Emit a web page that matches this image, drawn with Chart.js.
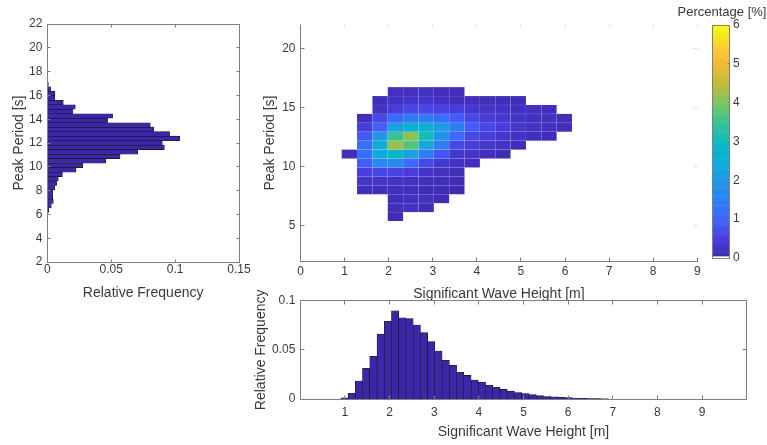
<!DOCTYPE html>
<html><head><meta charset="utf-8">
<script src="https://cdn.jsdelivr.net/npm/chart.js@4.4.1/dist/chart.umd.min.js"></script>
<style>
html,body{margin:0;padding:0;background:#fff;}
#wrap{position:relative;width:767px;height:445px;overflow:hidden;background:#fff;}
#wrap canvas{position:absolute;left:0;top:0;}
</style></head><body>
<div id="wrap">
<canvas id="cLeft" width="767" height="445"></canvas>
<canvas id="cMap" width="767" height="445"></canvas>
<canvas id="cBottom" width="767" height="445"></canvas>
<canvas id="cBar" width="767" height="445"></canvas>
</div>
<script>
// ---------------- DATA ----------------
// Peak period histogram (left panel): bin centres [s] and relative frequency
const periodBinCenters = [5.599,5.976,6.353,6.730,7.107,7.484,7.861,8.238,8.615,8.992,9.369,9.746,10.123,10.500,10.877,11.254,11.631,12.008,12.385,12.762,13.139,13.516,13.893,14.270,14.647,15.024,15.401,15.778,16.155,16.532,16.909,17.286,17.663,18.040];
const periodRelFreq = [0.0001,0.0004,0.0011,0.0031,0.0047,0.0042,0.0042,0.0058,0.0073,0.0086,0.0118,0.0225,0.0277,0.0457,0.0569,0.0707,0.0916,0.0900,0.1036,0.0957,0.0832,0.0806,0.0472,0.0511,0.0198,0.0219,0.0125,0.0058,0.0060,0.0026,0.0008,0.0005,0.0003,0.0002];

// Significant wave height histogram (bottom panel)
const heightBinCenters = [0.989,1.151,1.313,1.475,1.637,1.800,1.962,2.124,2.286,2.448,2.610,2.772,2.934,3.096,3.258,3.420,3.583,3.745,3.907,4.069,4.231,4.393,4.555,4.717,4.879,5.041,5.204,5.366,5.528,5.690,5.852,6.014,6.176,6.338,6.500,6.662,6.825];
const heightRelFreq = [0.0013,0.0058,0.0183,0.0312,0.0434,0.0658,0.0790,0.0898,0.0827,0.0817,0.0753,0.0675,0.0583,0.0488,0.0394,0.0343,0.0272,0.0240,0.0193,0.0173,0.0140,0.0119,0.0098,0.0080,0.0066,0.0056,0.0044,0.0034,0.0025,0.0022,0.0017,0.0014,0.0010,0.0007,0.0005,0.0004,0.0003];

// Joint distribution (centre panel): cell edges and percentage per cell (rows bottom -> top)
const heightCellEdges = [0.934,1.282,1.631,1.979,2.327,2.676,3.024,3.372,3.720,4.069,4.417,4.765,5.114,5.462,5.810,6.159];
const periodCellEdges = [5.410,6.164,6.918,7.672,8.426,9.180,9.934,10.688,11.442,12.196,12.950,13.704,14.458,15.212,15.966,16.720];
const _ = null;
const pctRow00 = [_,_,_,0.12,_,_,_,_,_,_,_,_,_,_,_];
const pctRow01 = [_,_,_,0.18,0.25,0.12,_,_,_,_,_,_,_,_,_];
const pctRow02 = [_,_,_,0.15,0.20,0.20,0.12,_,_,_,_,_,_,_,_];
const pctRow03 = [_,0.15,0.15,0.15,0.15,0.12,0.12,0.10,_,_,_,_,_,_,_];
const pctRow04 = [_,0.30,0.30,0.25,0.20,0.18,0.15,0.12,_,_,_,_,_,_,_];
const pctRow05 = [_,0.50,0.60,0.55,0.45,0.30,0.20,0.15,_,_,_,_,_,_,_];
const pctRow06 = [_,0.90,1.70,1.70,1.10,0.60,0.35,0.25,0.15,_,_,_,_,_,_];
const pctRow07 = [0.15,1.20,2.40,2.90,2.20,1.40,0.80,0.35,0.28,0.18,0.12,_,_,_,_];
const pctRow08 = [_,1.20,2.50,4.20,3.70,2.30,1.40,0.60,0.45,0.33,0.25,0.12,_,_,_];
const pctRow09 = [_,0.85,2.00,3.50,4.10,3.10,1.90,1.10,0.60,0.45,0.33,0.25,0.18,0.12,_];
const pctRow10 = [_,0.45,0.95,2.20,2.65,2.60,2.15,1.45,0.90,0.60,0.45,0.33,0.28,0.22,0.18];
const pctRow11 = [_,0.15,0.60,1.10,1.40,1.40,1.20,0.90,0.60,0.45,0.35,0.28,0.22,0.20,0.15];
const pctRow12 = [_,_,0.25,0.45,0.60,0.60,0.50,0.45,0.35,0.28,0.25,0.22,0.20,0.18,_];
const pctRow13 = [_,_,0.15,0.25,0.30,0.30,0.25,0.20,0.20,0.15,0.15,0.12,_,_,_];
const pctRow14 = [_,_,_,0.20,0.20,0.20,0.15,0.15,_,_,_,_,_,_,_];
const pctGrid = [pctRow00,pctRow01,pctRow02,pctRow03,pctRow04,pctRow05,pctRow06,pctRow07,pctRow08,pctRow09,pctRow10,pctRow11,pctRow12,pctRow13,pctRow14];

// Tick values
const leftXTicks = [0,0.05,0.1,0.15];
const leftYTicks = [2,4,6,8,10,12,14,16,18,20,22];
const mapXTicks = [0,1,2,3,4,5,6,7,8,9];
const mapYTicks = [5,10,15,20];
const bottomXTicks = [1,2,3,4,5,6,7,8,9];
const bottomYTicks = [0,0.05,0.1];
const colorbarTicks = [0,1,2,3,4,5,6];

// ---------------- STYLE ----------------
const W = 767, H = 445;
const FONT = "'Liberation Sans', Arial, Helvetica, sans-serif";
const TICK_FONT = {family: FONT, size: 12};
const TITLE_FONT = {family: FONT, size: 14};
const TEXT = '#3a3a3a';
const AXIS = '#808080';
const BAR = '#3e26a8';
const EDGE = '#151515';

const parulaStops = [
 [0.00,[62,38,168]],[0.08,[71,62,222]],[0.16,[66,96,250]],[0.24,[45,126,246]],
 [0.32,[35,148,233]],[0.40,[18,170,218]],[0.48,[5,184,198]],[0.56,[40,194,160]],
 [0.64,[100,198,112]],[0.72,[168,191,66]],[0.80,[228,185,55]],[0.88,[253,196,52]],
 [0.94,[246,222,36]],[1.00,[249,251,20]]
];
function parula(v, vmax) {
  let t = Math.max(0, Math.min(1, v / vmax));
  for (let i = 1; i < parulaStops.length; i++) {
    const [t1, c1] = parulaStops[i], [t0, c0] = parulaStops[i-1];
    if (t <= t1) {
      const f = (t - t0) / (t1 - t0);
      return 'rgb(' + c0.map((c, k) => Math.round(c + (c1[k] - c) * f)).join(',') + ')';
    }
  }
  return 'rgb(249,251,20)';
}

function fixedAxis(size) { return s => { if (s.isHorizontal()) s.height = size; else s.width = size; }; }
function setTicks(list) { return s => { s.ticks = list.map(v => ({value: v})); }; }
function axisOpts(min, max, pos, tickList, size, tickPad, title, titlePad, display) {
  return {
    type: 'linear', min, max, position: pos, offset: false, display: display === undefined ? true : display,
    afterBuildTicks: setTicks(tickList), afterFit: fixedAxis(size),
    grid: {display: false, drawTicks: false, offset: false}, border: {display: false},
    ticks: {font: TICK_FONT, color: TEXT, padding: tickPad, maxRotation: 0, minRotation: 0, autoSkip: false, callback: v => String(v)},
    title: title ? {display: true, text: title, font: TITLE_FONT, color: TEXT, padding: titlePad} : {display: false}
  };
}

const cr = v => Math.round(v - 0.5) + 0.5;
const framePlugin = {
  id: 'frame',
  afterDraw(chart) {
    const o = chart.options.plugins.frame; if (!o) return;
    const {ctx, chartArea: a} = chart;
    const sx = chart.scales.x, sy = chart.scales.y;
    const L = cr(a.left), R = cr(a.right), T = cr(a.top), B = cr(a.bottom);
    ctx.save(); ctx.lineWidth = 1;
    const line = (x0, y0, x1, y1, c) => { ctx.strokeStyle = c; ctx.beginPath(); ctx.moveTo(x0, y0); ctx.lineTo(x1, y1); ctx.stroke(); };
    const s = o.sides, tl = o.tickLen;
    if (o.xTicks && sx) sx.ticks.forEach(t => {
      const px = cr(sx.getPixelForValue(t.value));
      if (o.xTicks.bottom) line(px, B, px, B - tl, o.xTicks.bottom);
      if (o.xTicks.top) line(px, T, px, T + tl, o.xTicks.top);
    });
    if (o.yTicks && sy) sy.ticks.forEach(t => {
      const py = cr(sy.getPixelForValue(t.value));
      if (o.yTicks.left) line(L, py, L + tl, py, o.yTicks.left);
      if (o.yTicks.right) line(R, py, R - tl, py, o.yTicks.right);
    });
    if (s.left) line(L, T, L, B + 0.5, s.left);
    if (s.right) line(R, T, R, B + 0.5, s.right);
    if (s.top) line(L, T, R + 0.5, T, s.top);
    if (s.bottom) line(L, B, R + 0.5, B, s.bottom);
    ctx.restore();
  }
};

const heatPlugin = {
  id: 'heat',
  beforeDatasetsDraw(chart) {
    const {ctx} = chart; const sx = chart.scales.x, sy = chart.scales.y;
    ctx.save();
    pctGrid.forEach((row, r) => row.forEach((v, c) => {
      if (v === null) return;
      const x0 = sx.getPixelForValue(heightCellEdges[c]), x1 = sx.getPixelForValue(heightCellEdges[c+1]);
      const y0 = sy.getPixelForValue(periodCellEdges[r+1]), y1 = sy.getPixelForValue(periodCellEdges[r]);
      ctx.fillStyle = parula(v, 6);
      ctx.fillRect(x0, y0, x1 - x0, y1 - y0);
    }));
    ctx.lineWidth = 0.6; ctx.strokeStyle = 'rgba(255,255,255,0.07)';
    pctGrid.forEach((row, r) => row.forEach((v, c) => {
      if (v === null) return;
      const x0 = sx.getPixelForValue(heightCellEdges[c]), x1 = sx.getPixelForValue(heightCellEdges[c+1]);
      const y0 = sy.getPixelForValue(periodCellEdges[r+1]), y1 = sy.getPixelForValue(periodCellEdges[r]);
      ctx.strokeRect(x0, y0, x1 - x0, y1 - y0);
    }));
    ctx.restore();
  }
};

const colorbarPlugin = {
  id: 'cbar',
  beforeDatasetsDraw(chart) {
    const {ctx, chartArea: a} = chart; const sy = chart.scales.y;
    ctx.save();
    const n = 256, vmax = 6, white = 0.05;
    ctx.fillStyle = '#ffffff';
    ctx.fillRect(a.left, sy.getPixelForValue(white), a.right - a.left, sy.getPixelForValue(0) - sy.getPixelForValue(white));
    for (let k = 0; k < n; k++) {
      const v0 = white + (vmax - white) * k / n, v1 = white + (vmax - white) * (k + 1) / n;
      const y0 = sy.getPixelForValue(v1), y1 = sy.getPixelForValue(v0);
      ctx.fillStyle = parula((v0 + v1) / 2, vmax);
      ctx.fillRect(a.left, y0 - 0.3, a.right - a.left, y1 - y0 + 0.6);
    }
    ctx.fillStyle = TEXT; ctx.font = "13px " + FONT; ctx.textAlign = 'center'; ctx.textBaseline = 'middle';
    ctx.fillText('Percentage [%]', 722, 12);
    ctx.restore();
  }
};

const common = {responsive: false, animation: false, events: [], devicePixelRatio: 1};
const noPlug = {legend: {display: false}, tooltip: {enabled: false}};

// ---------- Left: peak period histogram ----------
new Chart(document.getElementById('cLeft'), {
  type: 'bar',
  data: {datasets: [{
    data: periodBinCenters.map((p, i) => ({x: periodRelFreq[i], y: p})),
    backgroundColor: BAR, borderColor: EDGE, borderWidth: 0.6, barPercentage: 1, categoryPercentage: 1
  }]},
  options: Object.assign({}, common, {
    indexAxis: 'y',
    layout: {padding: {left: 0, top: 24, right: W - 239, bottom: H - 262 - 50}},
    plugins: Object.assign({}, noPlug, {frame: {
      sides: {left: AXIS, right: AXIS, top: AXIS, bottom: AXIS}, tickLen: 3,
      xTicks: {bottom: AXIS, top: AXIS}, yTicks: {left: AXIS, right: AXIS}}}),
    scales: {
      x: axisOpts(0, 0.15, 'bottom', leftXTicks, 50, 0, 'Relative Frequency', {top: 0, bottom: 10.6}),
      y: axisOpts(2, 22, 'left', leftYTicks, 47.3, 5, 'Peak Period [s]', {top: 10.6, bottom: 0})
    }
  }),
  plugins: [framePlugin]
});

// ---------- Centre: joint distribution ----------
new Chart(document.getElementById('cMap'), {
  type: 'scatter',
  data: {datasets: [{data: []}]},
  options: Object.assign({}, common, {
    layout: {padding: {left: 300.5 - 60, top: 24.6, right: W - 697.3, bottom: H - 261.4 - 50}},
    plugins: Object.assign({}, noPlug, {frame: {
      sides: {left: AXIS, bottom: AXIS}, tickLen: 4,
      xTicks: {bottom: AXIS, top: '#e6e6e6'}, yTicks: {left: AXIS, right: '#e0e0e0'}}}),
    scales: {
      x: axisOpts(0, 9, 'bottom', mapXTicks, 50, 3, 'Significant Wave Height [m]', {top: 0, bottom: 9}),
      y: axisOpts(2, 22, 'left', mapYTicks, 60, 5, 'Peak Period [s]', {top: 21, bottom: 0})
    }
  }),
  plugins: [heatPlugin, framePlugin]
});

// ---------- Bottom: significant wave height histogram ----------
new Chart(document.getElementById('cBottom'), {
  type: 'bar',
  data: {datasets: [{
    data: heightBinCenters.map((h, i) => ({x: h, y: heightRelFreq[i]})),
    backgroundColor: BAR, borderColor: EDGE, borderWidth: 0.6, barPercentage: 1, categoryPercentage: 1
  }]},
  options: Object.assign({}, common, {
    layout: {padding: {left: 300.3 - 50, top: 300.7, right: W - 746.7, bottom: H - 399 - 45}},
    plugins: Object.assign({}, noPlug, {frame: {
      sides: {left: AXIS, right: AXIS, top: AXIS, bottom: AXIS}, tickLen: 4,
      xTicks: {bottom: AXIS, top: AXIS}, yTicks: {left: AXIS, right: AXIS}}}),
    scales: {
      x: axisOpts(0, 10, 'bottom', bottomXTicks, 45, 6, 'Significant Wave Height [m]', {top: 0, bottom: 3.1}),
      y: axisOpts(0, 0.1, 'left', bottomYTicks, 50, 5, 'Relative Frequency', {top: 2.3, bottom: 0})
    }
  }),
  plugins: [framePlugin]
});

// ---------- Colour bar ----------
new Chart(document.getElementById('cBar'), {
  type: 'scatter',
  data: {datasets: [{data: []}]},
  options: Object.assign({}, common, {
    layout: {padding: {left: 712, top: 25, right: 0, bottom: H - 258}},
    plugins: Object.assign({}, noPlug, {frame: {
      sides: {left: AXIS, right: AXIS, top: AXIS, bottom: AXIS}, tickLen: 2,
      yTicks: {right: AXIS}}}),
    scales: {
      x: axisOpts(0, 1, 'bottom', [0, 1], 0, 0, null, null, false),
      y: axisOpts(0, 6, 'right', colorbarTicks, 38, 4, null, null)
    }
  }),
  plugins: [colorbarPlugin, framePlugin]
});
</script>
</body></html>
